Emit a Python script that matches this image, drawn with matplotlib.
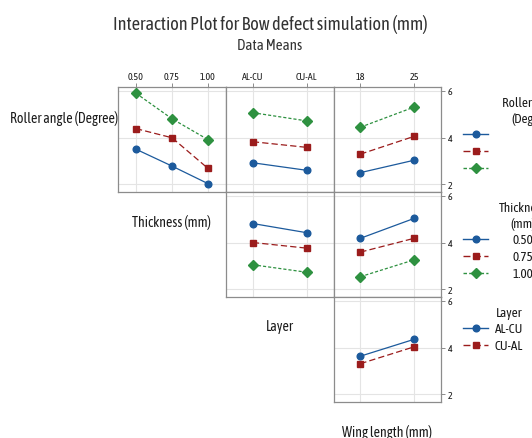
import matplotlib
matplotlib.use("Agg")
import matplotlib.pyplot as plt
import matplotlib.font_manager as fm

# factor levels
thickness = ["0.50", "0.75", "1.00"]
layer = ["AL-CU", "CU-AL"]
wing = ["18", "25"]

# means, one list per trace (row factor level) across the column factor
roller_vs_thickness = [[3.50, 2.78, 2.03], [4.38, 3.99, 2.68], [5.89, 4.80, 3.91]]
roller_vs_layer = [[2.92, 2.60], [3.82, 3.58], [5.06, 4.71]]
roller_vs_wing = [[2.50, 3.03], [3.29, 4.05], [4.44, 5.30]]
thick_vs_layer = [[4.81, 4.42], [4.00, 3.76], [3.05, 2.73]]
thick_vs_wing = [[4.18, 5.03], [3.59, 4.18], [2.54, 3.26]]
layer_vs_wing = [[3.63, 4.35], [3.31, 4.03]]

names = {f.name for f in fm.fontManager.ttflist}
font = "DejaVu Sans"
for cand in ["Asap Condensed", "Barlow Semi Condensed", "Archivo Narrow"]:
    if cand in names:
        font = cand
        break
plt.rcParams["font.family"] = [font, "DejaVu Sans"]
plt.rcParams["font.weight"] = "normal"
TXT = "#1a1a1a"

colors = ["#1c5a9c", "#9b1c1c", "#2e9140"]
markers = ["o", "s", "D"]
msizes = [4.8, 4.8, 4.6]
dashes = [None, (5, 2.5), (2.5, 1.6)]

W, H = 532, 439
fig = plt.figure(figsize=(W / 100, H / 100), dpi=100)
renderer = fig.canvas.get_renderer()


def px_axes(x0, y0, x1, y1):
    return fig.add_axes([x0 / W, 1 - y1 / H, (x1 - x0) / W, (y1 - y0) / H])


def fit_size(text, width):
    # font size that makes `text` about `width` pixels wide
    t = fig.text(0, 0, text, fontsize=10)
    w = t.get_window_extent(renderer).width
    t.remove()
    return 10 * width / w


tick_fs = fit_size("AL-CU", 21.7)
leg_fs = fit_size("AL-CU", 28.5)

cols = [(118, 226), (226, 333.5), (333.5, 441)]
rows = [(88.3, 193.3), (193.3, 298.3), (298.3, 403.3)]
col_levels = [thickness, layer, wing]

panels = {
    (0, 0): roller_vs_thickness, (0, 1): roller_vs_layer, (0, 2): roller_vs_wing,
    (1, 1): thick_vs_layer, (1, 2): thick_vs_wing,
    (2, 2): layer_vs_wing,
}

for (r, c), traces in panels.items():
    ax = px_axes(cols[c][0], rows[r][0], cols[c][1], rows[r][1])
    levels = col_levels[c]
    xs = list(range(len(levels)))
    for i, ys in enumerate(traces):
        ln, = ax.plot(xs, ys, color=colors[i], marker=markers[i], ms=msizes[i],
                      lw=0.9, zorder=3)
        if dashes[i]:
            ln.set_dashes(dashes[i])
    ax.set_xlim(-0.5, len(levels) - 0.5)
    ax.set_ylim(1.66, 6.145)
    ax.set_xticks(xs)
    ax.set_yticks([2, 4, 6])
    ax.grid(True, color="#e4e4e4", lw=0.8)
    ax.set_axisbelow(True)
    for s in ax.spines.values():
        s.set_color("#8c8c8c")
        s.set_linewidth(0.9)
    ax.tick_params(left=False, labelleft=False, bottom=False, labelbottom=False,
                   colors="#8c8c8c", labelcolor=TXT, length=3, width=0.7)
    if r == 0:
        ax.tick_params(top=True, labeltop=True, labelsize=tick_fs, pad=1.5)
        ax.set_xticklabels(levels)
    if c == 2:
        ax.tick_params(axis="y", right=True, labelright=True, labelsize=tick_fs, pad=2)

# overlay in pixel units for the diagonal labels and legends
ov = fig.add_axes([0, 0, 1, 1], zorder=-1)
ov.set_xlim(0, W)
ov.set_ylim(H, 0)
ov.axis("off")

title = "Interaction Plot for Bow defect simulation (mm)"
ov.text(270, 24, title, ha="center", va="center",
        fontsize=fit_size(title, 316), color="#333333")
ov.text(270, 46, "Data Means", ha="center", va="center",
        fontsize=fit_size("Data Means", 65), color="#333333")

diag_fs = fit_size("Thickness (mm)", 79)
diag = [("Roller angle (Degree)", 64, 119), ("Thickness (mm)", 172, 223),
        ("Layer", 280, 327), ("Wing length (mm)", 387, 433)]
for label, x, y in diag:
    ov.text(x, y, label, ha="center", va="center", fontsize=diag_fs, color=TXT)

# legends; the picture is cropped at the right, so the text runs off the edge
legends = [
    (["Roller angle", "(Degree)"], [None, None, None], 88.3, 532),
    (["Thickness", "(mm)"], thickness, 193.3, 523),
    (["Layer"], layer, 298.3, 509),
]
for ttl, labels, top, cx in legends:
    y = top + 15
    for t in ttl:
        ov.text(cx, y, t, ha="center", va="center", fontsize=leg_fs, color=TXT)
        y += 16
    y = top + 31 + 16 * (len(ttl) - 1)
    for i, lab in enumerate(labels):
        ln, = ov.plot([463, 488], [y, y], color=colors[i], lw=1.0)
        if dashes[i]:
            ln.set_dashes(dashes[i])
        ov.plot([476], [y], color=colors[i], marker=markers[i], ms=msizes[i], lw=0)
        if lab:
            ov.text(cx, y, lab, ha="center", va="center", fontsize=leg_fs, color=TXT)
        y += 17

fig.savefig("out.png", dpi=100)
